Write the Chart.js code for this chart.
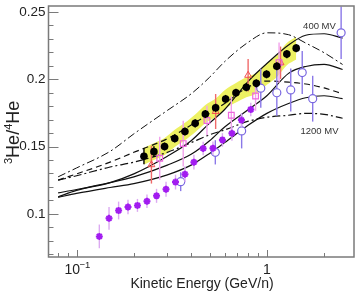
<!DOCTYPE html>
<html>
<head>
<meta charset="utf-8">
<script src="https://cdn.jsdelivr.net/npm/chart.js@4.4.1/dist/chart.umd.min.js"></script>
<style>
  html, body { margin: 0; padding: 0; background: #fff; }
</style>
</head>
<body>
<canvas id="ratioChart" width="360" height="294"></canvas>
<script>
// model curves, all on the same energy grid (GeV/n)
const modelEnergy = [0.08, 0.1, 0.15, 0.2, 0.3, 0.4, 0.5, 0.6, 0.8, 1.0, 1.3, 1.6, 2.0, 2.5];
const dashDotHigh = [0.1275, 0.1341, 0.1464, 0.1594, 0.1768, 0.1891, 0.2014, 0.2130, 0.2275, 0.2344, 0.2330, 0.2268, 0.2196, 0.2109];
const solidHigh   = [0.1127, 0.1174, 0.1232, 0.1297, 0.1428, 0.1543, 0.1674, 0.1775, 0.1986, 0.2116, 0.2254, 0.2326, 0.2337, 0.2304];
const solidMid    = [0.1156, 0.1181, 0.1232, 0.1275, 0.1362, 0.1442, 0.1543, 0.1645, 0.1775, 0.1877, 0.2043, 0.2094, 0.2109, 0.2072];
const solidLow    = [0.1123, 0.1152, 0.1196, 0.1225, 0.1290, 0.1362, 0.1449, 0.1529, 0.1659, 0.1746, 0.1819, 0.1862, 0.1877, 0.1855];
const dashedMid   = [0.1251, 0.1297, 0.1384, 0.1457, 0.1558, 0.1659, 0.1746, 0.1819, 0.1942, 0.1986, 0.1978, 0.1964, 0.1935, 0.1891];
const dashDotLow  = [0.1250, 0.1283, 0.1348, 0.1384, 0.1457, 0.1529, 0.1587, 0.1623, 0.1688, 0.1717, 0.1732, 0.1746, 0.1739, 0.1710];

// black points with the yellow band
const blackEnergy = [0.226, 0.255, 0.290, 0.328, 0.371, 0.420, 0.475, 0.538, 0.607, 0.688, 0.780, 0.880, 0.996, 1.128, 1.273, 1.426];
const blackRatio  = [0.1428, 0.1462, 0.1500, 0.1560, 0.1611, 0.1672, 0.1741, 0.1788, 0.1853, 0.1899, 0.1940, 0.1969, 0.2036, 0.2096, 0.2186, 0.2230];
const blackErr    = [0.006, 0.004, 0.003, 0.003, 0.003, 0.003, 0.003, 0.003, 0.003, 0.003, 0.003, 0.003, 0.003, 0.003, 0.003, 0.003];
const bandHigh    = [0.1490, 0.1524, 0.1563, 0.1624, 0.1676, 0.1738, 0.1809, 0.1857, 0.1924, 0.1972, 0.2015, 0.2046, 0.2115, 0.2177, 0.2269, 0.2315];
const bandLow     = [0.1366, 0.1400, 0.1437, 0.1496, 0.1546, 0.1606, 0.1673, 0.1719, 0.1782, 0.1826, 0.1865, 0.1892, 0.1957, 0.2015, 0.2103, 0.2145];

// purple stars
const starEnergy = [0.1317, 0.1481, 0.1663, 0.1863, 0.2089, 0.2344, 0.2632, 0.2952, 0.3311, 0.3713, 0.4136, 0.4627, 0.5208, 0.584, 0.6552, 0.7348, 0.8231];
const starRatio  = [0.0833, 0.0967, 0.1025, 0.1051, 0.1063, 0.1094, 0.1134, 0.1183, 0.1236, 0.1295, 0.1384, 0.1486, 0.1487, 0.1549, 0.1598, 0.1696, 0.1775];
const starErr    = [0.0088, 0.0085, 0.0066, 0.0054, 0.0048, 0.005, 0.0052, 0.0055, 0.0055, 0.0058, 0.0055, 0.005, 0.005, 0.005, 0.0055, 0.005, 0.005];

// open circles
const circleEnergy = [0.3525, 0.536, 0.737, 0.929, 1.128, 1.335, 1.534, 1.741, 2.456];
const circleRatio  = [0.1239, 0.1457, 0.1616, 0.1933, 0.1899, 0.1920, 0.2049, 0.1855, 0.2344];
const circleErr    = [0.007, 0.009, 0.013, 0.0145, 0.017, 0.016, 0.016, 0.017, 0.0195];

// open squares
const squareEnergy = [0.2735, 0.3634, 0.4844, 0.6505, 0.8723, 1.159];
const squareRatio  = [0.1413, 0.1522, 0.1693, 0.1732, 0.1875, 0.2123];
const squareErr    = [0.016, 0.017, 0.011, 0.014, 0.011, 0.015];

// red triangles
const redEnergy = [0.2474, 0.5381, 0.797, 1.18];
const redRatio  = [0.1365, 0.1760, 0.2029, 0.2122];
const redErr    = [0.014, 0.013, 0.012, 0.012];

// axis ticks
const xTicks = [0.08, 0.09, 0.1, 0.2, 0.3, 0.4, 0.5, 0.6, 0.7, 0.8, 0.9, 1, 2];
const xMajor = [0.1, 1];
const yTicks = [0.07, 0.08, 0.09, 0.1, 0.11, 0.12, 0.13, 0.14, 0.15, 0.16, 0.17, 0.18, 0.19, 0.2, 0.21, 0.22, 0.23, 0.24, 0.25];
const yMajor = [0.1, 0.15, 0.2, 0.25];
const yLabels = ['0.1', '0.15', '0.2', '0.25'];

const pts = (xs, ys) => xs.map((x, i) => ({ x: x, y: ys[i] }));
const FONT = '"Liberation Sans", Arial, sans-serif';

function curve(data, dash, width, order) {
  return {
    data: pts(modelEnergy, data),
    showLine: true,
    borderColor: '#111',
    borderWidth: width,
    borderDash: dash,
    pointRadius: 0,
    cubicInterpolationMode: 'monotone',
    fill: false,
    order: order
  };
}

const errorBars = {
  id: 'errorBars',
  beforeDatasetDraw(chart, args) {
    const ds = chart.data.datasets[args.index];
    if (!ds.errors) return;
    const xs = chart.scales.x, ys = chart.scales.y, ctx = chart.ctx;
    ctx.save();
    ctx.strokeStyle = ds.errColor;
    ctx.lineWidth = 1.4;
    ds.data.forEach((p, i) => {
      const px = xs.getPixelForValue(p.x);
      ctx.beginPath();
      ctx.moveTo(px, ys.getPixelForValue(p.y - ds.errors[i]));
      ctx.lineTo(px, ys.getPixelForValue(p.y + ds.errors[i]));
      ctx.stroke();
    });
    ctx.restore();
  }
};

const frame = {
  id: 'frame',
  afterDraw(chart) {
    const ctx = chart.ctx, a = chart.chartArea;
    const xs = chart.scales.x, ys = chart.scales.y;
    ctx.save();
    ctx.strokeStyle = '#7a7a7a';
    ctx.lineWidth = 1.5;
    ctx.strokeRect(a.left, a.top, a.right - a.left, a.bottom - a.top);

    ctx.lineWidth = 1;
    yTicks.forEach(v => {
      const py = Math.round(ys.getPixelForValue(v)) + 0.5;
      const len = yMajor.some(m => Math.abs(m - v) < 1e-6) ? 10 : 5;
      ctx.beginPath();
      ctx.moveTo(a.left, py);
      ctx.lineTo(a.left + len, py);
      ctx.stroke();
    });
    xTicks.forEach(v => {
      const px = Math.round(xs.getPixelForValue(v)) + 0.5;
      const len = xMajor.includes(v) ? 7 : 4;
      ctx.beginPath();
      ctx.moveTo(px, a.bottom);
      ctx.lineTo(px, a.bottom - len);
      ctx.stroke();
    });

    // y tick labels
    ctx.fillStyle = '#222';
    ctx.font = '13.5px ' + FONT;
    ctx.textAlign = 'right';
    ctx.textBaseline = 'middle';
    yMajor.forEach((v, i) => {
      ctx.fillText(yLabels[i], a.left - 3, ys.getPixelForValue(v));
    });

    // x tick labels
    ctx.textBaseline = 'alphabetic';
    const x01 = xs.getPixelForValue(0.1);
    ctx.textAlign = 'left';
    ctx.font = '14px ' + FONT;
    ctx.fillText('10', x01 - 12, a.bottom + 17);
    ctx.font = '9.5px ' + FONT;
    ctx.fillText('\u22121', x01 + 3, a.bottom + 11);
    ctx.textAlign = 'center';
    ctx.font = '14px ' + FONT;
    ctx.fillText('1', xs.getPixelForValue(1), a.bottom + 17);

    // axis titles
    ctx.font = '14px ' + FONT;
    ctx.fillText('Kinetic Energy (GeV/n)', 202, 288);

    ctx.save();
    ctx.translate(19, 164);
    ctx.rotate(-Math.PI / 2);
    ctx.textAlign = 'left';
    let u = 0;
    const part = (txt, size, rise) => {
      ctx.font = size + 'px ' + FONT;
      ctx.fillText(txt, u, -rise);
      u += ctx.measureText(txt).width;
    };
    part('3', 11, 7);
    part('He/', 18, 0);
    part('4', 11, 7);
    part('He', 18, 0);
    ctx.restore();

    // modulation labels
    ctx.font = '9.5px ' + FONT;
    ctx.fillStyle = '#333';
    ctx.textAlign = 'center';
    ctx.textBaseline = 'middle';
    ctx.fillText('400 MV', xs.getPixelForValue(1.89), ys.getPixelForValue(0.2395));
    ctx.fillText('1200 MV', xs.getPixelForValue(1.89), ys.getPixelForValue(0.1616));
    ctx.restore();
  }
};

new Chart(document.getElementById('ratioChart'), {
  type: 'scatter',
  data: {
    datasets: [
      {
        data: pts(blackEnergy, bandHigh),
        showLine: true, borderWidth: 0, pointRadius: 0, tension: 0.3,
        borderColor: 'rgba(0,0,0,0)', fill: false, order: 20
      },
      {
        data: pts(blackEnergy, bandLow),
        showLine: true, borderWidth: 0, pointRadius: 0, tension: 0.3,
        borderColor: 'rgba(0,0,0,0)',
        backgroundColor: 'rgba(234,238,70,0.85)', fill: '-1', order: 19
      },
      curve(dashDotHigh, [8, 3, 2, 3], 1, 10),
      curve(solidHigh, [], 1.2, 10),
      curve(solidMid, [], 1.2, 10),
      curve(solidLow, [], 1.2, 10),
      curve(dashedMid, [6, 4], 1.2, 10),
      curve(dashDotLow, [8, 3, 2, 3], 1.2, 10),
      {
        data: pts(redEnergy, redRatio), errors: redErr, errColor: '#f06a6a',
        pointStyle: 'triangle', pointRadius: 4, borderWidth: 1,
        borderColor: '#f05050', backgroundColor: 'rgba(255,255,255,0)', order: 5
      },
      {
        data: pts(squareEnergy, squareRatio), errors: squareErr, errColor: '#f2a2ec',
        pointStyle: 'rect', pointRadius: 4, borderWidth: 1.2,
        borderColor: '#ee66dd', backgroundColor: 'rgba(255,255,255,0)', order: 4
      },
      {
        data: pts(circleEnergy, circleRatio), errors: circleErr, errColor: '#8a78e8',
        pointStyle: 'circle', pointRadius: 4, borderWidth: 1.2,
        borderColor: '#7a68e0', backgroundColor: '#fff', order: 3
      },
      {
        data: pts(starEnergy, starRatio), errors: starErr, errColor: '#dcaaf2',
        pointStyle: 'star', pointRadius: 3.5, borderWidth: 2,
        borderColor: '#a21cf0', backgroundColor: '#a21cf0', order: 2
      },
      {
        data: pts(blackEnergy, blackRatio), errors: blackErr, errColor: '#000',
        pointStyle: 'circle', pointRadius: 3.8, borderWidth: 0,
        backgroundColor: '#000', order: 1
      }
    ]
  },
  options: {
    responsive: false,
    animation: false,
    layout: { padding: { left: 0, right: 6, top: 0, bottom: 0 } },
    plugins: { legend: { display: false }, tooltip: { enabled: false } },
    scales: {
      x: {
        type: 'logarithmic', min: 0.0712, max: 2.87,
        grid: { display: false }, border: { display: false },
        ticks: { display: false },
        afterFit: s => { s.height = 37; }
      },
      y: {
        min: 0.068, max: 0.2543,
        grid: { display: false }, border: { display: false },
        ticks: { display: false },
        afterFit: s => { s.width = 48.5; }
      }
    }
  },
  plugins: [errorBars, frame]
});
</script>
</body>
</html>
